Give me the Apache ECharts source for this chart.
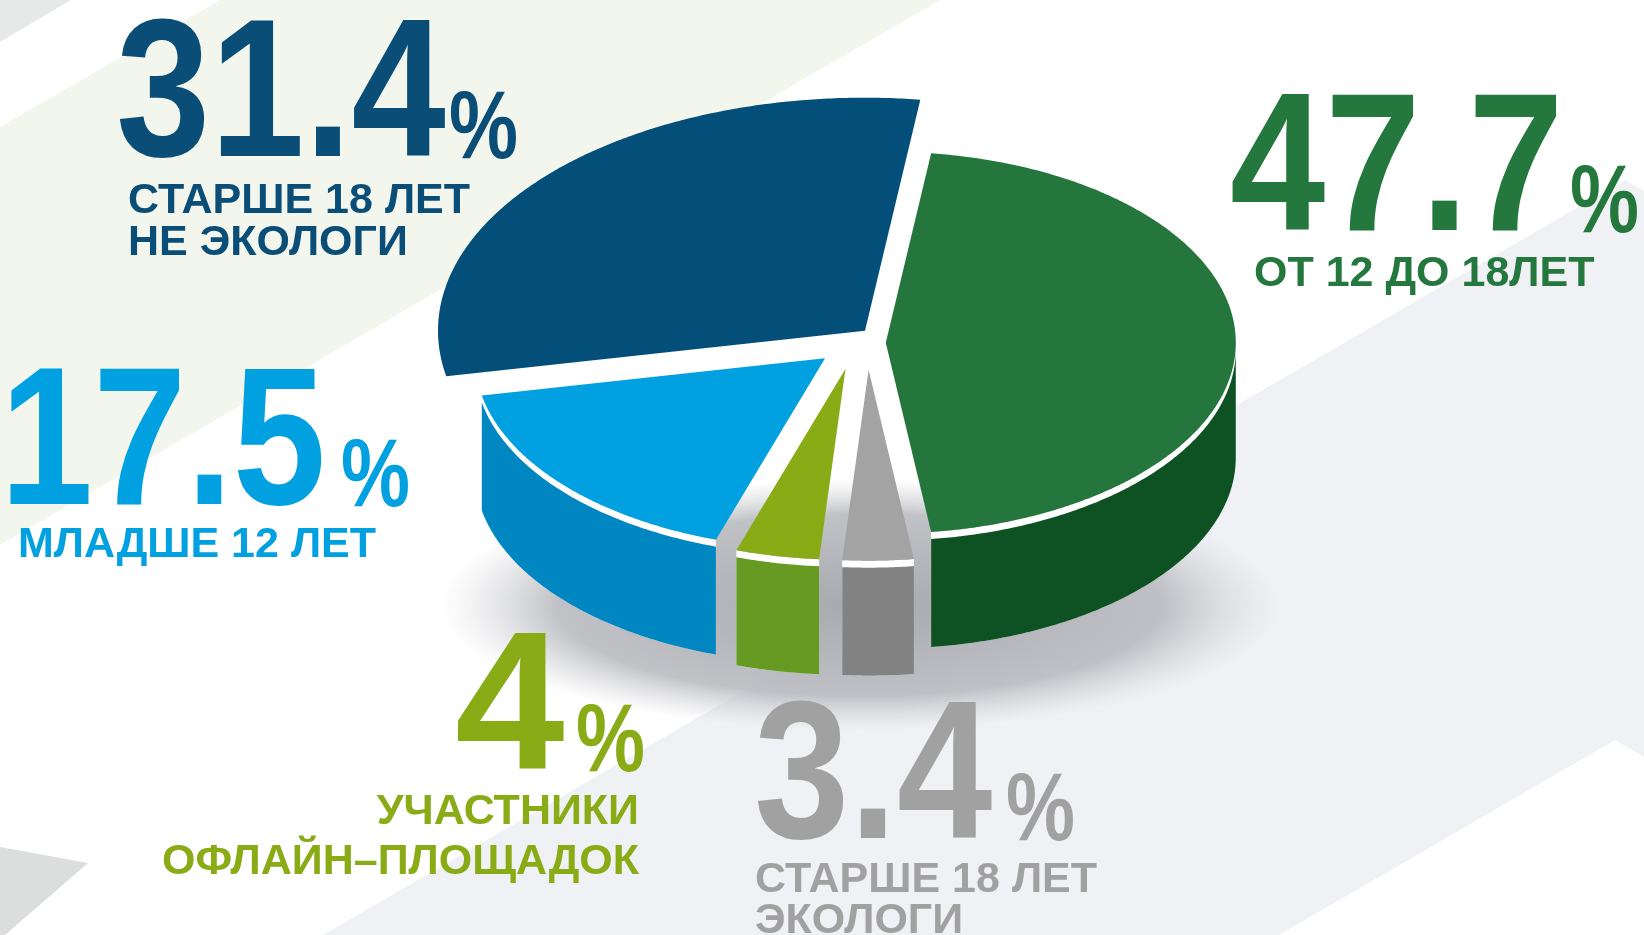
<!DOCTYPE html>
<html>
<head>
<meta charset="utf-8">
<title>pie 3d</title>
<script src="https://cdn.jsdelivr.net/npm/echarts@6/dist/echarts.min.js"></script>
<style>
  html, body { margin: 0; padding: 0; background: #fff; }
  #chart { width: 1644px; height: 935px; }
</style>
</head>
<body>
<div id="chart"></div>
<script>
// slices, clockwise from the top
const categories = ['ОТ 12 ДО 18ЛЕТ', 'СТАРШЕ 18 ЛЕТ ЭКОЛОГИ', 'УЧАСТНИКИ ОФЛАЙН–ПЛОЩАДОК', 'МЛАДШЕ 12 ЛЕТ', 'СТАРШЕ 18 ЛЕТ НЕ ЭКОЛОГИ']
const values = [47.7, 3.4, 4, 17.5, 31.4]
const labelLines = [
  ['ОТ 12 ДО 18ЛЕТ'],
  ['СТАРШЕ 18 ЛЕТ', 'ЭКОЛОГИ'],
  ['УЧАСТНИКИ', 'ОФЛАЙН–ПЛОЩАДОК'],
  ['МЛАДШЕ 12 ЛЕТ'],
  ['СТАРШЕ 18 ЛЕТ', 'НЕ ЭКОЛОГИ']
]

const faceColors = ['#24763d', '#a2a3a2', '#89ac16', '#00a0e1', '#034f79']
const wallColors = ['#0e5224', '#828282', '#669a23', '#0086c0', '#023d5e']
const textColors = ['#24773d', '#a0a1a0', '#89ac16', '#00a0e1', '#0a4e78']
const FONT = '"Liberation Sans", Arial, Helvetica, sans-serif'

// pie geometry
const RX = 350, RY = 191, DEPTH = 115, RIM = 7, GAP = 23
const CX = 858, CY = 354
const sliceScale = [1, 1, 1, 1, 1.22]
const showWall = [true, true, true, true, false] // the back slice hides its side
const drawOrder = [1, 4, 3, 2, 0]

// where the big numbers and captions sit
const textLayout = [
  { numX: 1230, base: 231, scaleX: 0.87, pctX: 1570, labelX: 1254, labelBase: 286, lineGap: 0, align: 'left' },
  { numX: 754, base: 839, scaleX: 0.87, pctX: 1006, labelX: 755, labelBase: 892, lineGap: 41, align: 'left' },
  { numX: 455, base: 770, scaleX: 1, pctX: 576, labelX: 639, labelBase: 824, lineGap: 50, align: 'right' },
  { numX: 0, base: 505, scaleX: 0.85, pctX: 341, labelX: 18, labelBase: 557, lineGap: 0, align: 'left' },
  { numX: 116, base: 157, scaleX: 0.86, pctX: 449, labelX: 128, labelBase: 213, lineGap: 42, align: 'left' }
]

const total = values.reduce((s, v) => s + v, 0)
let acc = -values[0] / total * Math.PI
const angles = values.map(v => {
  const a0 = acc
  acc += v / total * Math.PI * 2
  return [a0, acc]
})

// move slices apart so that every cut gets the same white gap
function sliceOffsets(gap) {
  const n = angles.length
  const nrm = angles.map(([, a]) => {
    const dx = RX * Math.cos(a), dy = RY * Math.sin(a)
    const l = Math.hypot(dx, dy)
    return [-dy / l, dx / l]
  })
  const dot = (p, q) => p[0] * q[0] + p[1] * q[1]
  const M = []
  for (let k = 0; k < n; k++) {
    M[k] = new Array(n).fill(0)
    M[k][k] = 2
    M[k][(k + 1) % n] -= dot(nrm[k], nrm[(k + 1) % n])
    M[k][(k + n - 1) % n] -= dot(nrm[k], nrm[(k + n - 1) % n])
    M[k].push(gap)
  }
  for (let c = 0; c < n; c++) {
    let p = c
    for (let r = c + 1; r < n; r++) if (Math.abs(M[r][c]) > Math.abs(M[p][c])) p = r
    const tmp = M[c]; M[c] = M[p]; M[p] = tmp
    for (let r = 0; r < n; r++) {
      if (r === c) continue
      const f = M[r][c] / M[c][c]
      for (let j = c; j <= n; j++) M[r][j] -= f * M[c][j]
    }
  }
  const lam = M.map((row, k) => row[n] / row[k])
  return angles.map((_, j) => {
    const a = (j + n - 1) % n
    return [lam[a] * nrm[a][0] - lam[j] * nrm[j][0], lam[a] * nrm[a][1] - lam[j] * nrm[j][1]]
  })
}
const offsets = sliceOffsets(GAP)

function arc(cx, cy, rx, ry, a0, a1) {
  const steps = Math.max(2, Math.ceil(Math.abs(a1 - a0) / (Math.PI / 360)))
  const pts = []
  for (let i = 0; i <= steps; i++) {
    const a = a0 + (a1 - a0) * i / steps
    pts.push([cx + rx * Math.cos(a), cy + ry * Math.sin(a)])
  }
  return pts
}

function renderItem(params, api) {
  const i = params.dataIndex
  const [a0, a1] = angles[i]
  const s = sliceScale[i]
  const cx = CX + offsets[i][0], cy = CY + offsets[i][1]
  const rx = RX * s, ry = RY * s
  const z = drawOrder[i] * 3
  const children = []
  const w0 = Math.max(a0, 0), w1 = Math.min(a1, Math.PI)
  if (showWall[i] && w1 > w0) {
    children.push({
      type: 'polygon',
      z2: z,
      shape: { points: arc(cx, cy, rx, ry, w0, w1).concat(arc(cx, cy + DEPTH, rx, ry, w1, w0)) },
      style: { fill: '#ffffff' }
    })
    children.push({
      type: 'polygon',
      z2: z + 1,
      shape: { points: arc(cx, cy + RIM, rx, ry, w0, w1).concat(arc(cx, cy + DEPTH, rx, ry, w1, w0)) },
      style: { fill: wallColors[i] }
    })
  }
  children.push({
    type: 'polygon',
    z2: z + 2,
    shape: { points: [[cx, cy]].concat(arc(cx, cy, rx, ry, a0, a1)) },
    style: { fill: faceColors[i] }
  })
  return { type: 'group', children }
}

function textEl(text, x, base, size, color, opts) {
  return Object.assign({
    type: 'text',
    x: x,
    y: base - 0.28 * size,
    z: 10,
    style: {
      text: text,
      fill: color,
      font: 'bold ' + size + 'px ' + FONT,
      lineHeight: size,
      align: 'left',
      verticalAlign: 'middle'
    }
  }, opts || {})
}

const texts = []
values.forEach((v, i) => {
  const t = textLayout[i]
  texts.push(textEl(String(v), t.numX, t.base, 197, textColors[i], { scaleX: t.scaleX }))
  texts.push(textEl('%', t.pctX, t.base + 1, 97, textColors[i], { scaleX: 0.8 }))
  labelLines[i].forEach((line, k) => {
    const el = textEl(line, t.labelX, t.labelBase + k * t.lineGap, 43, textColors[i])
    el.style.align = t.align
    texts.push(el)
  })
})

const background = [
  { type: 'polygon', z: 0, shape: { points: [[0, 0], [71, 0], [0, 42]] }, style: { fill: '#e7e8e8' } },
  { type: 'polygon', z: 0, shape: { points: [[220, 0], [940, 0], [0, 545], [0, 127]] }, style: { fill: '#f3f6ed' } },
  { type: 'polygon', z: 0, shape: { points: [[323, 935], [1625, 180], [1644, 191], [1644, 757], [1615, 740], [1279, 935]] }, style: { fill: '#f0f1f5' } },
  { type: 'polygon', z: 0, shape: { points: [[0, 847], [88, 863], [5, 935], [0, 935]] }, style: { fill: '#dcdedd' } },
  {
    type: 'circle', z: 1, x: 860, y: 605, scaleY: 0.3,
    shape: { cx: 0, cy: 0, r: 420 },
    style: {
      fill: {
        type: 'radial', x: 0.5, y: 0.5, r: 0.5,
        colorStops: [
          { offset: 0, color: 'rgba(168,169,174,1)' },
          { offset: 0.72, color: 'rgba(186,187,192,0.9)' },
          { offset: 1, color: 'rgba(210,211,215,0)' }
        ]
      }
    }
  }
]

const chart = echarts.init(document.getElementById('chart'))
chart.setOption({
  backgroundColor: '#ffffff',
  animation: false,
  graphic: background.concat(texts),
  series: [{
    type: 'custom',
    name: 'share',
    coordinateSystem: 'none',
    silent: true,
    z: 5,
    data: values.map((v, i) => ({ name: categories[i], value: v })),
    renderItem: renderItem
  }]
})
</script>
</body>
</html>
